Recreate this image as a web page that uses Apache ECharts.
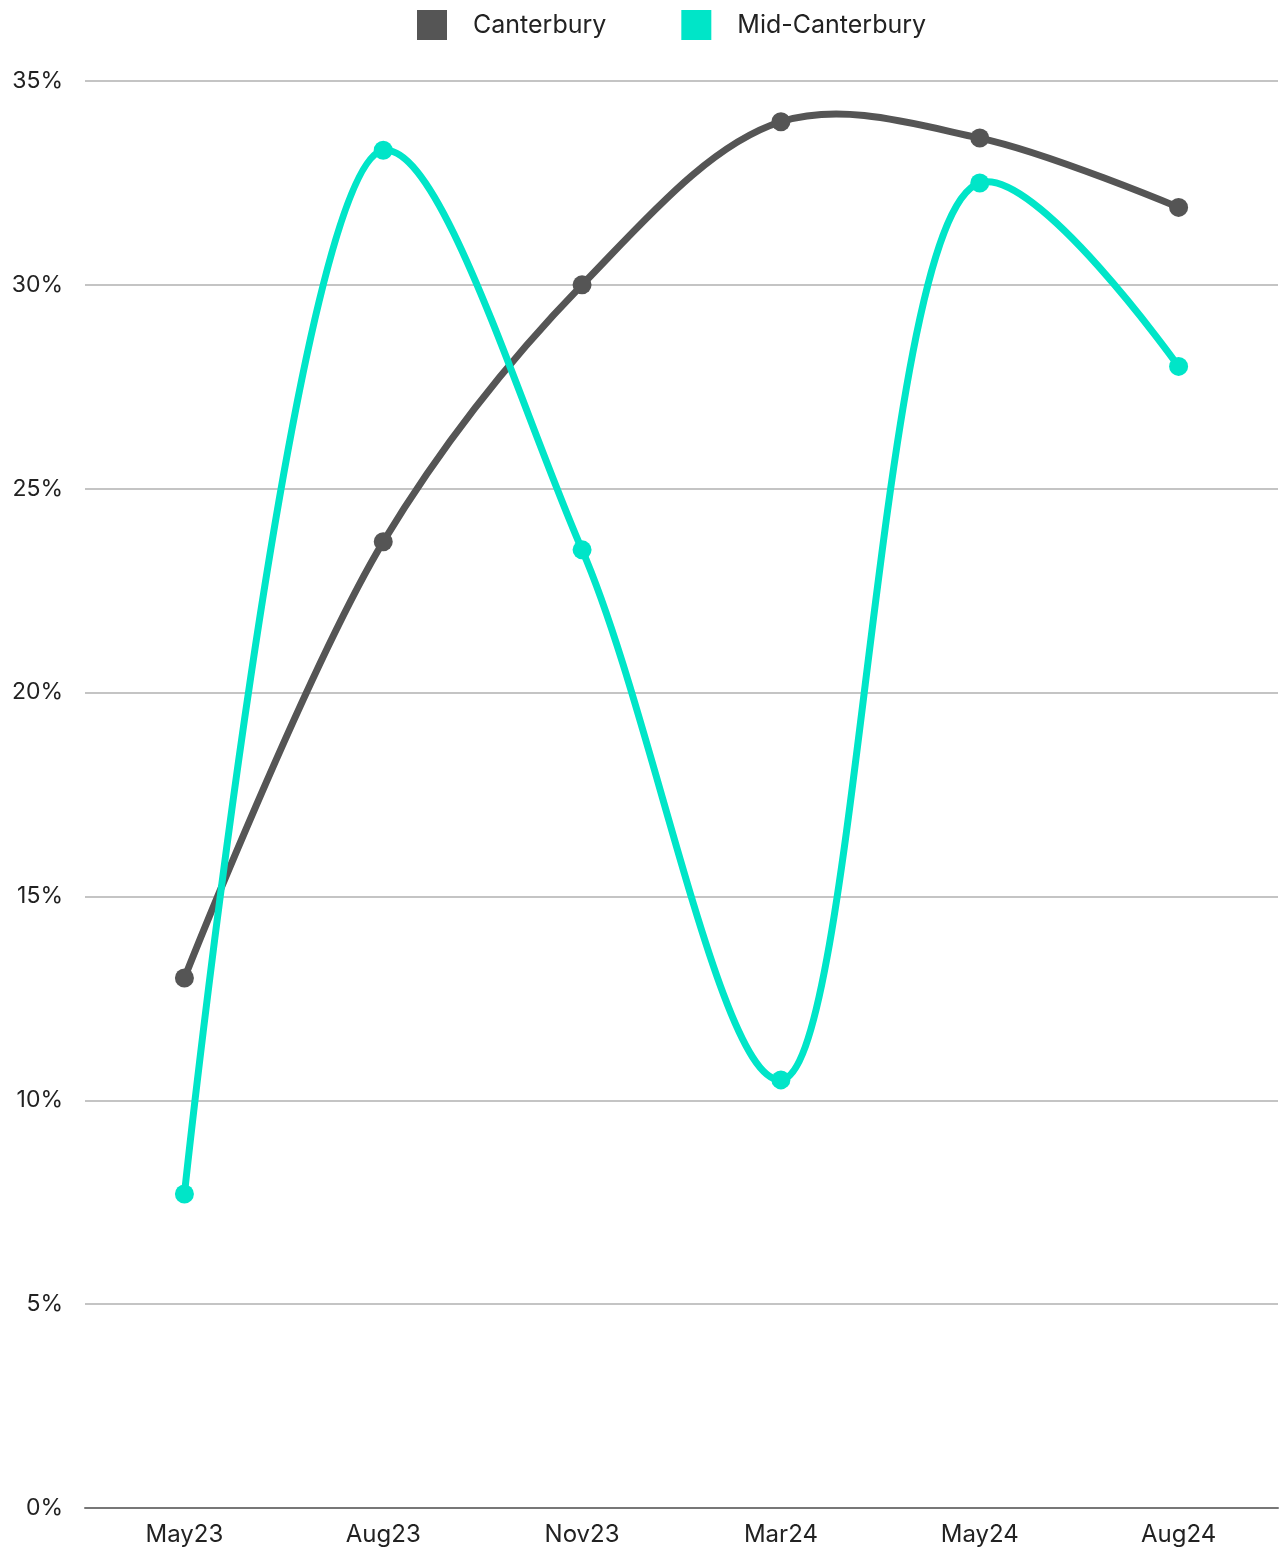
<!DOCTYPE html>
<html>
<head>
<meta charset="utf-8">
<script src="https://cdn.jsdelivr.net/npm/echarts@6/dist/echarts.min.js"></script>
<style>
  html, body { margin: 0; padding: 0; background: #ffffff; }
  #chart { width: 1279px; height: 1551px; }
</style>
</head>
<body>
<div id="chart"></div>
<script>
// Survey periods
const categories = ['May23', 'Aug23', 'Nov23', 'Mar24', 'May24', 'Aug24'];
// Share of respondents (%)
const canterbury = [13.0, 23.7, 30.0, 34.0, 33.6, 31.9];
const midCanterbury = [7.7, 33.3, 23.5, 10.5, 32.5, 28.0];
const seriesNames = ['Canterbury', 'Mid-Canterbury'];
const seriesColors = ['#555555', '#00E5C8'];

const FONT = 'Inter, "Noto Sans", sans-serif';
const ALPHA = 0.5; // centripetal Catmull-Rom
const EPS = 1e-12;

// Centripetal Catmull-Rom spline through pixel points, as cubic Bezier segments.
function catmullRomSegments(pts, alpha) {
  const len = (a, b) => Math.pow((a[0] - b[0]) ** 2 + (a[1] - b[1]) ** 2, alpha / 2);
  const segs = [];
  for (let i = 0; i < pts.length - 1; i++) {
    const p0 = pts[i - 1], p1 = pts[i], p2 = pts[i + 1], p3 = pts[i + 2];
    const l01a = p0 ? len(p0, p1) : 0;
    const l12a = len(p1, p2);
    const l23a = p3 ? len(p2, p3) : 0;
    const l01_2a = l01a * l01a, l12_2a = l12a * l12a, l23_2a = l23a * l23a;
    let c1 = [p1[0], p1[1]];
    let c2 = [p2[0], p2[1]];
    if (l01a > EPS) {
      const a = 2 * l01_2a + 3 * l01a * l12a + l12_2a;
      const n = 3 * l01a * (l01a + l12a);
      c1 = [0, 1].map(k => (p1[k] * a - p0[k] * l12_2a + p2[k] * l01_2a) / n);
    }
    if (l23a > EPS) {
      const b = 2 * l23_2a + 3 * l23a * l12a + l12_2a;
      const m = 3 * l23a * (l23a + l12a);
      c2 = [0, 1].map(k => (p2[k] * b + p1[k] * l23_2a - p3[k] * l12_2a) / m);
    }
    segs.push({
      x1: p1[0], y1: p1[1],
      cpx1: c1[0], cpy1: c1[1],
      cpx2: c2[0], cpy2: c2[1],
      x2: p2[0], y2: p2[1]
    });
  }
  return segs;
}

function curveSeries(name, values, color) {
  return {
    name: name,
    type: 'custom',
    color: color,
    data: values.map((v, i) => [i, v]),
    encode: { x: 0, y: 1 },
    renderItem: function (params, api) {
      if (params.dataIndex !== 0) return null;
      const pts = values.map((v, i) => api.coord([i, v]));
      return {
        type: 'group',
        children: catmullRomSegments(pts, ALPHA).map(s => ({
          type: 'bezierCurve',
          shape: s,
          style: { stroke: color, lineWidth: 7, fill: null, lineCap: 'round' }
        }))
      };
    }
  };
}

function pointSeries(name, values, color) {
  return {
    name: name,
    type: 'scatter',
    color: color,
    data: values.map((v, i) => [i, v]),
    symbol: 'circle',
    symbolSize: 19,
    itemStyle: { color: color, opacity: 1 }
  };
}

const chart = echarts.init(document.getElementById('chart'), null, { renderer: 'canvas' });

chart.setOption({
  animation: false,
  textStyle: { fontFamily: FONT },
  legend: {
    top: 5,
    left: 412,
    itemWidth: 30,
    itemHeight: 30,
    itemGap: 75,
    icon: 'rect',
    textStyle: { fontSize: 25, color: '#222222', fontFamily: FONT, padding: [0, 0, 0, 21] },
    data: seriesNames.map((n, i) => ({ name: n, itemStyle: { color: seriesColors[i] } }))
  },
  grid: { left: 85, right: 1, top: 81, bottom: 43, containLabel: false },
  xAxis: {
    type: 'category',
    data: categories,
    boundaryGap: true,
    axisLine: { lineStyle: { color: '#777777', width: 2 } },
    axisTick: { show: false },
    axisLabel: { fontSize: 24, color: '#222222', margin: 15, fontFamily: FONT }
  },
  yAxis: {
    type: 'value',
    min: 0,
    max: 35,
    interval: 5,
    axisLine: { show: false },
    axisTick: { show: false },
    axisLabel: { formatter: '{value}%', fontSize: 23, color: '#222222', margin: 22, fontFamily: FONT },
    splitLine: { lineStyle: { color: '#c4c4c4', width: 2 } }
  },
  series: [
    curveSeries(seriesNames[0], canterbury, seriesColors[0]),
    pointSeries(seriesNames[0], canterbury, seriesColors[0]),
    curveSeries(seriesNames[1], midCanterbury, seriesColors[1]),
    pointSeries(seriesNames[1], midCanterbury, seriesColors[1])
  ]
});
</script>
</body>
</html>
